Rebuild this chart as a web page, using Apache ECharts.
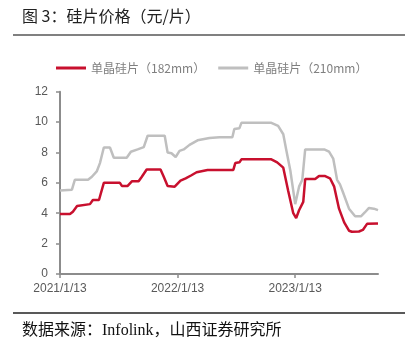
<!DOCTYPE html>
<html>
<head>
<meta charset="utf-8">
<script src="https://cdn.jsdelivr.net/npm/echarts@6/dist/echarts.min.js"></script>
<style>
html,body{margin:0;padding:0;background:#fff;}
#c{width:417px;height:346px;}
</style>
</head>
<body>
<div id="c"></div>
<script>
var titleText = '图 3：硅片价格（元/片）';
var sourceText = '数据来源：Infolink，山西证券研究所';
var seriesNames = ['单晶硅片（182mm）', '单晶硅片（210mm）'];
var xTickLabels = ['2021/1/13', '2022/1/13', '2023/1/13'];
var yMin = 0, yMax = 12, yStep = 2;
var xStart = '2021-01-13', xEnd = '2023-09-27';

var dates182 = ['2021-01-13','2021-02-13','2021-02-22','2021-03-07','2021-03-13','2021-04-16','2021-04-25','2021-05-14','2021-05-29','2021-07-18','2021-07-24','2021-08-11','2021-08-24','2021-09-14','2021-09-24','2021-10-09','2021-11-21','2021-12-01','2021-12-13','2021-12-19','2022-01-04','2022-01-13','2022-01-22','2022-02-07','2022-02-25','2022-03-13','2022-04-16','2022-07-05','2022-07-11','2022-07-24','2022-07-30','2022-10-31','2022-11-18','2022-12-07','2022-12-22','2023-01-07','2023-01-16','2023-01-25','2023-02-07','2023-02-13','2023-03-16','2023-03-28','2023-04-16','2023-05-01','2023-05-14','2023-05-29','2023-06-14','2023-06-29','2023-07-08','2023-07-30','2023-08-11','2023-08-24','2023-09-27'];
var values182 = [3.95,3.95,4.1,4.47,4.6,4.6,4.87,4.87,6.0,6.0,5.8,5.8,6.1,6.1,6.4,6.88,6.88,6.4,5.8,5.7,5.75,5.95,6.15,6.3,6.5,6.7,6.85,6.85,7.3,7.35,7.55,7.55,7.35,7.0,5.5,4.0,3.68,4.2,4.75,6.25,6.25,6.45,6.45,6.3,5.75,4.3,3.4,2.85,2.78,2.8,2.9,3.3,3.33];

var dates210 = ['2021-01-13','2021-02-19','2021-02-28','2021-04-10','2021-04-22','2021-05-07','2021-05-17','2021-05-29','2021-06-17','2021-06-29','2021-08-08','2021-08-21','2021-09-11','2021-09-30','2021-10-12','2021-12-04','2021-12-13','2021-12-25','2022-01-07','2022-01-19','2022-02-01','2022-02-19','2022-03-16','2022-04-22','2022-05-23','2022-07-02','2022-07-08','2022-07-24','2022-07-30','2022-10-31','2022-11-21','2022-12-07','2022-12-16','2022-12-29','2023-01-13','2023-01-25','2023-02-04','2023-02-13','2023-04-13','2023-04-28','2023-05-11','2023-05-23','2023-06-01','2023-06-10','2023-06-29','2023-07-18','2023-08-05','2023-08-17','2023-08-30','2023-09-14','2023-09-27'];
var values210 = [5.5,5.55,6.2,6.2,6.4,6.75,7.3,8.33,8.33,7.65,7.65,8.05,8.2,8.35,9.1,9.1,8.0,7.95,7.7,8.1,8.2,8.5,8.8,8.95,9.0,9.0,9.55,9.6,9.95,9.95,9.75,9.2,8.2,6.8,4.6,5.75,6.2,8.2,8.2,8.05,7.6,6.2,5.9,5.4,4.3,3.8,3.8,4.05,4.35,4.3,4.2];

function ts(s){ var p = s.split('-'); return new Date(+p[0], +p[1]-1, +p[2]).getTime(); }
function ts2(s){ var p = s.split('/'); return new Date(+p[0], +p[1]-1, +p[2]).getTime(); }
function pairs(d, v){ return d.map(function(x,i){ return [ts(x), v[i]]; }); }
var tickValues = xTickLabels.map(ts2);

var chart = echarts.init(document.getElementById('c'), null, {renderer:'canvas'});
var axisColor = '#8c8c8c';
var labelColor = '#595959';
chart.setOption({
  animation: false,
  backgroundColor: '#fff',
  textStyle: {fontFamily: '"Liberation Sans", Arial, "Noto Sans CJK SC", sans-serif'},
  graphic: [
    {type:'text', left: 22, top: 8, style:{text: titleText, font: '16px "Noto Sans CJK SC", sans-serif', fill:'#222'}},
    {type:'line', shape:{x1:13, y1:35, x2:405, y2:35}, style:{stroke:'#808080', lineWidth:2}},
    {type:'line', shape:{x1:13, y1:313, x2:405, y2:313}, style:{stroke:'#222', lineWidth:1.5}},
    {type:'text', left: 22, top: 323, style:{text: sourceText, font: '16px "Liberation Serif", "Noto Sans CJK SC", serif', fill:'#111'}}
  ],
  legend: {
    left: 51, top: 57,
    itemWidth: 30, itemHeight: 3, itemGap: 13,
    icon: 'rect',
    textStyle: {fontSize: 12, color: '#7f7f7f', fontFamily: '"Noto Sans CJK SC", "Liberation Sans", sans-serif'},
    data: seriesNames
  },
  grid: {left: 60, right: 39, top: 91.7, bottom: 72, containLabel: false},
  xAxis: {
    type: 'value',
    min: ts(xStart), max: ts(xEnd),
    axisLine: {show: true, lineStyle: {color: axisColor, width: 2}},
    axisTick: {show: true, customValues: tickValues, length: 4, lineStyle: {color: axisColor, width: 1.5}},
    axisLabel: {
      customValues: tickValues, color: labelColor, fontSize: 12, margin: 9,
      formatter: function(v){ var d = new Date(v); return d.getFullYear() + '/' + (d.getMonth()+1) + '/' + d.getDate(); }
    },
    splitLine: {show: false}
  },
  yAxis: {
    type: 'value', min: yMin, max: yMax, interval: yStep,
    axisLine: {show: true, lineStyle: {color: axisColor, width: 2}},
    axisTick: {show: true, length: 4, lineStyle: {color: axisColor, width: 1.5}},
    axisLabel: {color: labelColor, fontSize: 12, margin: 12},
    splitLine: {show: false}
  },
  series: [
    {name: seriesNames[0], type: 'line', showSymbol: false, symbol: 'none', z: 3,
     lineStyle: {color: '#c8102e', width: 2.5}, itemStyle: {color: '#c8102e'},
     data: pairs(dates182, values182)},
    {name: seriesNames[1], type: 'line', showSymbol: false, symbol: 'none', z: 2,
     lineStyle: {color: '#bfbfbf', width: 2.5}, itemStyle: {color: '#bfbfbf'},
     data: pairs(dates210, values210)}
  ]
});
</script>
</body>
</html>
